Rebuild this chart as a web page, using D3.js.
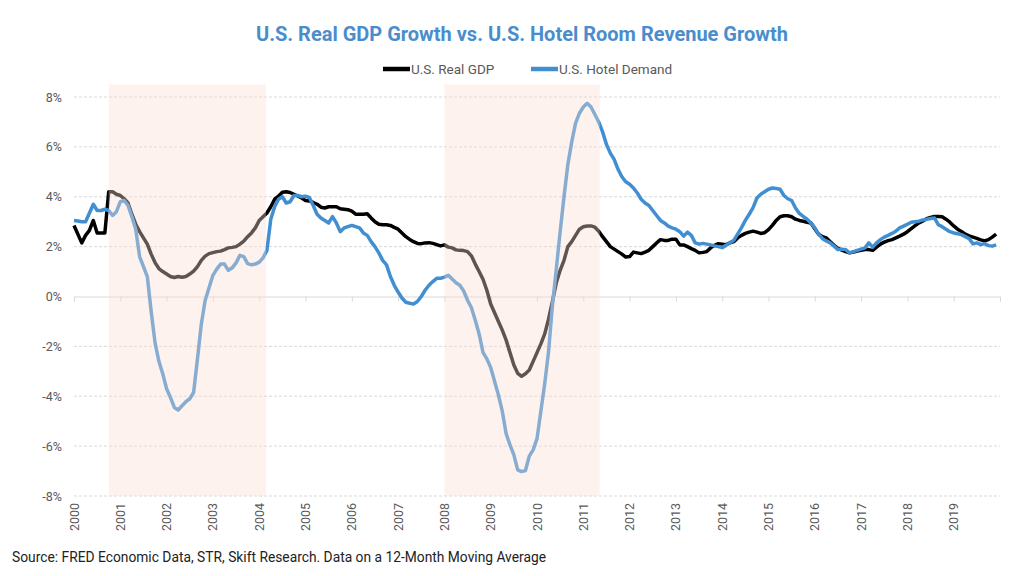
<!DOCTYPE html>
<html>
<head>
<meta charset="utf-8">
<script src="https://cdn.jsdelivr.net/npm/d3@7"></script>
<style>
  body { margin: 0; background: #fff; }
  svg { font-family: Roboto, "Noto Sans", sans-serif; }
</style>
</head>
<body>
<div id="chart"></div>
<script>
// monthly 12-month moving average growth, Jan 2000 - Dec 2019 (one row per year)
const gdp = [
  2.85, 2.5, 2.15, 2.45, 2.65, 3.05, 2.55, 2.55, 2.55, 4.2, 4.2, 4.1,
  4.05, 3.92, 3.75, 3.3, 2.9, 2.6, 2.35, 2.1, 1.7, 1.36, 1.12, 1.0,
  0.9, 0.8, 0.76, 0.8, 0.77, 0.8, 0.9, 1.02, 1.2, 1.45, 1.62, 1.72,
  1.76, 1.8, 1.82, 1.88, 1.95, 1.97, 2.0, 2.1, 2.22, 2.4, 2.55, 2.75,
  3.05, 3.2, 3.35, 3.6, 3.9, 4.02, 4.18, 4.2, 4.17, 4.1, 4.03, 3.95,
  3.85, 3.83, 3.77, 3.7, 3.58, 3.55, 3.6, 3.6, 3.6, 3.52, 3.5, 3.48,
  3.42, 3.3, 3.3, 3.3, 3.32, 3.15, 3.0, 2.9, 2.88, 2.88, 2.85, 2.77,
  2.7, 2.55, 2.4, 2.29, 2.2, 2.13, 2.12, 2.15, 2.16, 2.13, 2.08, 2.03,
  2.07, 1.98, 1.95, 1.87, 1.85, 1.84, 1.8, 1.63, 1.3, 1.0, 0.69, 0.25,
  -0.3, -0.65, -1.0, -1.35, -1.75, -2.25, -2.75, -3.08, -3.2, -3.1, -2.95, -2.6,
  -2.25, -1.9, -1.5, -0.9, -0.2, 0.55, 1.05, 1.45, 2.0, 2.2, 2.45, 2.7,
  2.8, 2.83, 2.83, 2.78, 2.62, 2.4, 2.2, 2.0, 1.9, 1.8, 1.7, 1.58,
  1.6, 1.78, 1.75, 1.72, 1.78, 1.85, 2.0, 2.15, 2.28, 2.25, 2.25, 2.3,
  2.3, 2.07, 2.07, 2.0, 1.92, 1.85, 1.75, 1.77, 1.8, 1.95, 2.05, 2.12,
  2.1, 2.08, 2.15, 2.2, 2.35, 2.45, 2.53, 2.58, 2.62, 2.58, 2.53, 2.56,
  2.68, 2.85, 3.05, 3.2, 3.24, 3.24, 3.2, 3.1, 3.05, 3.02, 2.98, 2.95,
  2.72, 2.5, 2.4, 2.35, 2.2, 2.05, 1.93, 1.86, 1.8, 1.75, 1.78, 1.82,
  1.85, 1.88, 1.88, 1.85, 1.98, 2.1, 2.18, 2.24, 2.28, 2.35, 2.42, 2.5,
  2.6, 2.72, 2.84, 2.95, 3.03, 3.12, 3.17, 3.21, 3.21, 3.2, 3.1, 2.98,
  2.83, 2.7, 2.61, 2.5, 2.43, 2.38, 2.33, 2.27, 2.23, 2.28, 2.38, 2.5
];

const hotel = [
  3.05, 3.03, 3.0, 3.0, 3.35, 3.7, 3.45, 3.45, 3.5, 3.45, 3.25, 3.4,
  3.8, 3.85, 3.65, 3.2, 2.7, 1.6, 1.2, 0.8, -0.6, -1.85, -2.6, -3.1,
  -3.7, -4.05, -4.45, -4.55, -4.38, -4.22, -4.1, -3.85, -2.5, -1.1, -0.15, 0.35,
  0.85, 1.1, 1.3, 1.3, 1.05, 1.15, 1.35, 1.65, 1.6, 1.32, 1.27, 1.3,
  1.38, 1.55, 1.85, 3.1, 3.6, 3.9, 4.0, 3.75, 3.8, 4.05, 4.05, 4.0,
  4.02, 3.97, 3.65, 3.3, 3.15, 3.05, 2.95, 3.2, 2.95, 2.6, 2.75, 2.8,
  2.85, 2.8, 2.75, 2.55, 2.45, 2.2, 2.0, 1.75, 1.45, 1.27, 0.8, 0.45,
  0.18, -0.06, -0.23, -0.27, -0.3, -0.2, 0.0, 0.25, 0.45, 0.6, 0.73, 0.73,
  0.78, 0.85, 0.7, 0.55, 0.45, 0.22, -0.15, -0.45, -0.95, -1.5, -2.24, -2.5,
  -2.85, -3.4, -3.95, -4.6, -5.5, -5.95, -6.35, -6.95, -7.02, -6.98, -6.4, -6.15,
  -5.7, -4.6, -3.5, -2.2, -0.35, 1.1, 2.6, 4.0, 5.3, 6.2, 6.95, 7.35,
  7.6, 7.75, 7.6, 7.3, 7.0, 6.6, 6.1, 5.75, 5.5, 5.1, 4.8, 4.6,
  4.5, 4.35, 4.15, 3.9, 3.75, 3.65, 3.45, 3.25, 3.05, 2.95, 2.82, 2.75,
  2.7, 2.6, 2.42, 2.58, 2.45, 2.15, 2.1, 2.13, 2.1, 2.07, 2.03, 2.0,
  1.96, 2.05, 2.16, 2.25, 2.5, 2.76, 3.05, 3.3, 3.56, 3.95, 4.1, 4.2,
  4.3, 4.35, 4.33, 4.3, 4.05, 3.92, 3.85, 3.55, 3.33, 3.21, 3.1, 2.95,
  2.75, 2.5, 2.32, 2.23, 2.15, 2.02, 1.88, 1.9, 1.88, 1.75, 1.8, 1.85,
  1.9, 1.95, 2.15, 1.98, 2.15, 2.28, 2.38, 2.45, 2.53, 2.62, 2.75, 2.82,
  2.9, 2.98, 3.0, 3.02, 3.07, 3.1, 3.13, 3.15, 2.88, 2.8, 2.7, 2.6,
  2.55, 2.52, 2.48, 2.4, 2.32, 2.11, 2.15, 2.08, 2.12, 2.04, 2.02, 2.07
];

const years = d3.range(2000, 2020).map(String);
const yTicks = [-8, -6, -4, -2, 0, 2, 4, 6, 8];

// shaded periods, in months since Jan 2000
const shadeStart = [9, 96];
const shadeEnd = [49.75, 136.25];

const width = 1024;
const height = 576;
const plotLeft = 74, plotRight = 1000, plotTop = 97, plotBottom = 496;

const x = d3.scaleLinear().domain([0, 240]).range([plotLeft, plotRight]);
const y = d3.scaleLinear().domain([-8, 8]).range([plotBottom, plotTop]);

const svg = d3.select("#chart").append("svg")
  .attr("width", width)
  .attr("height", height);

// title
svg.append("text")
  .attr("x", 522).attr("y", 41)
  .attr("text-anchor", "middle")
  .style("font-size", "20px")
  .style("font-weight", "bold")
  .style("fill", "#4a8dcc")
  .text("U.S. Real GDP Growth vs. U.S. Hotel Room Revenue Growth");

// grid
svg.append("g")
  .selectAll("line")
  .data(yTicks.filter((d) => d !== 0))
  .enter().append("line")
  .attr("x1", plotLeft).attr("x2", plotRight)
  .attr("y1", (d) => y(d)).attr("y2", (d) => y(d))
  .style("stroke", "#d9d9d9")
  .style("stroke-dasharray", "3,2")
  .style("stroke-width", 1);

// y labels
svg.append("g")
  .selectAll("text")
  .data(yTicks)
  .enter().append("text")
  .attr("x", 62).attr("y", (d) => y(d) + 4.5)
  .attr("text-anchor", "end")
  .style("font-size", "12.5px")
  .style("fill", "#595959")
  .text((d) => d + "%");

// category axis at 0%
const xAxis = d3.axisBottom(x)
  .tickValues(d3.range(0, 241, 12))
  .tickSize(5)
  .tickFormat("");

const axisG = svg.append("g")
  .attr("transform", `translate(0, ${y(0)})`)
  .call(xAxis);
axisG.select(".domain").style("stroke", "#d9d9d9");
axisG.selectAll(".tick line").style("stroke", "#d9d9d9");

// year labels at the bottom
svg.append("g")
  .selectAll("text")
  .data(years)
  .enter().append("text")
  .attr("transform", (d, i) => `translate(${x(i * 12) + 4.5}, 503) rotate(-90)`)
  .attr("text-anchor", "end")
  .style("font-size", "12.5px")
  .style("fill", "#595959")
  .text((d) => d);

// lines
const line = d3.line()
  .x((d, i) => x(i))
  .y((d) => y(d));

svg.append("path")
  .datum(gdp)
  .attr("d", line)
  .style("fill", "none")
  .style("stroke", "#000")
  .style("stroke-width", 3.5)
  .style("stroke-linejoin", "round");

svg.append("path")
  .datum(hotel)
  .attr("d", line)
  .style("fill", "none")
  .style("stroke", "#418fd1")
  .style("stroke-width", 3.5)
  .style("stroke-linejoin", "round");

// shaded periods sit over the lines
svg.append("g")
  .selectAll("rect")
  .data(shadeStart)
  .enter().append("rect")
  .attr("x", (d) => x(d))
  .attr("width", (d, i) => x(shadeEnd[i]) - x(d))
  .attr("y", y(8.5))
  .attr("height", y(-8) - y(8.5))
  .style("fill", "rgb(250,222,211)")
  .style("opacity", 0.38);

// legend
const legend = svg.append("g").attr("transform", "translate(383, 69)");
const items = [
  { name: "U.S. Real GDP", color: "#000", x: 0 },
  { name: "U.S. Hotel Demand", color: "#418fd1", x: 148 },
];
items.forEach((d) => {
  legend.append("line")
    .attr("x1", d.x).attr("x2", d.x + 27)
    .attr("y1", 0).attr("y2", 0)
    .style("stroke", d.color)
    .style("stroke-width", 4.5);
  legend.append("text")
    .attr("x", d.x + 28).attr("y", 5)
    .style("font-size", "13.5px")
    .style("fill", "#595959")
    .text(d.name);
});

// source
svg.append("text")
  .attr("x", 12).attr("y", 562)
  .style("font-size", "13.8px")
  .style("fill", "#222")
  .text("Source: FRED Economic Data, STR, Skift Research. Data on a 12-Month Moving Average");
</script>
</body>
</html>
